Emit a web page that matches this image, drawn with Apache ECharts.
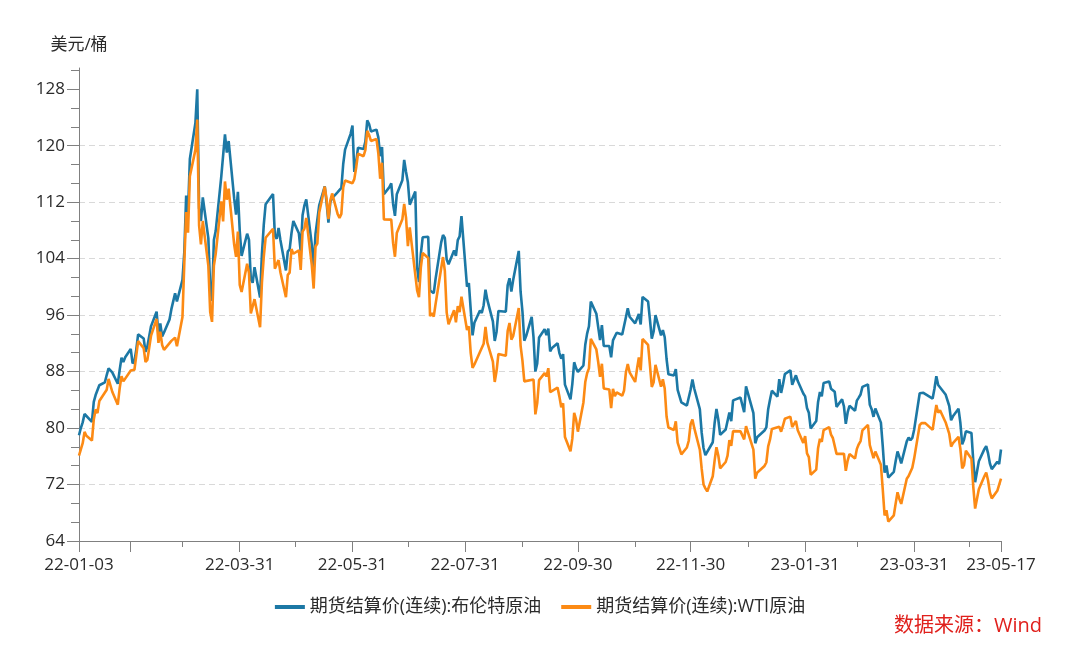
<!DOCTYPE html>
<html>
<head>
<meta charset="utf-8">
<script src="https://cdn.jsdelivr.net/npm/echarts@6/dist/echarts.min.js"></script>
<style>
html,body{margin:0;padding:0;background:#fff;}
#chart{width:1080px;height:653px;}
</style>
</head>
<body>
<div id="chart"></div>
<script>
// ---------------- data ----------------
const seriesNames = ['期货结算价(连续):布伦特原油', '期货结算价(连续):WTI原油'];
const unitName = '美元/桶';
const sourceText = '数据来源：Wind';

const startDate = '2022-01-03';
const endDate = '2023-05-17';
// days on which neither contract settled (weekdays)
const closedDays = ['2022-04-15', '2022-12-26', '2023-01-02', '2023-04-07'];

// x-axis ticks / labels
const labelDates = ['22-01-03', '22-03-31', '22-05-31', '22-07-31', '22-09-30', '22-11-30', '23-01-31', '23-03-31', '23-05-17'];
const majorTickDates = ['22-01-03', '22-01-31', '22-03-31', '22-05-31', '22-07-31', '22-09-30', '22-11-30', '23-01-31', '23-03-31', '23-05-17'];
const minorTickDates = ['22-02-28', '22-04-30', '22-06-30', '22-08-31', '22-10-31', '22-12-31', '23-02-28', '23-04-30'];

// y-axis ticks
const yTickLabels = [64, 72, 80, 88, 96, 104, 112, 120, 128];

// Brent settlement (one value per trading day, by month)
const brent = [
  78.98,80.00,80.80,81.99,81.75,80.87,83.72,84.67,84.47,86.06,86.48,87.51,88.44,88.38,87.89,86.27,88.20,89.96,89.34,90.03,91.21,
  89.16,89.47,91.11,93.27,92.69,90.78,91.55,91.41,94.44,96.48,93.28,94.81,92.97,93.54,95.39,96.84,96.84,99.08,97.93,100.99,
  104.97,112.93,110.46,118.11,123.21,127.98,111.14,109.33,112.67,106.90,99.91,98.02,106.64,107.93,115.62,115.48,121.60,119.03,120.65,112.48,110.23,113.45,107.91,
  104.39,107.53,106.64,101.07,100.58,102.78,98.48,104.64,108.78,111.70,113.16,107.25,106.80,108.33,106.65,102.32,104.99,105.32,107.59,109.34,
  107.58,104.97,110.14,111.55,112.39,105.94,102.46,107.51,107.45,111.55,114.24,111.93,109.11,112.04,112.55,113.42,113.56,114.03,117.40,119.43,121.67,122.84,
  116.29,117.61,119.72,119.51,120.57,123.58,123.07,122.01,122.27,121.17,118.51,119.81,113.12,114.13,114.65,111.74,110.05,113.12,115.09,117.98,116.26,114.81,
  111.63,113.50,102.77,100.69,104.65,107.02,107.10,99.49,99.57,99.10,101.16,106.27,107.35,106.92,103.86,103.20,105.15,104.40,106.62,107.14,110.01,
  100.03,100.54,96.78,93.12,94.92,96.65,96.31,97.40,99.60,98.15,95.10,92.34,93.65,96.59,96.72,96.48,100.22,101.22,99.34,100.99,105.09,99.31,96.49,
  92.36,93.02,95.74,92.83,88.00,89.15,92.84,94.00,93.17,94.10,90.84,91.35,92.00,90.62,89.83,90.46,86.15,84.06,86.27,89.32,88.49,87.96,
  88.86,91.80,93.37,94.42,97.92,96.19,94.29,92.45,94.57,91.63,91.62,90.03,92.41,92.38,93.50,93.26,93.52,95.69,96.96,95.77,94.83,
  94.65,96.16,94.67,98.57,97.92,95.36,92.65,93.67,95.99,93.14,93.86,92.86,89.78,87.62,87.45,88.36,85.41,85.34,83.63,83.19,83.03,85.43,
  86.88,85.57,82.68,79.35,77.17,76.15,76.10,77.99,80.68,82.70,81.21,79.04,79.80,79.99,82.20,80.98,83.92,84.33,83.26,82.26,85.91,
  82.10,77.84,78.69,78.57,79.65,80.10,82.67,84.03,85.28,84.46,86.92,84.98,86.16,87.63,88.19,86.13,86.12,87.47,86.66,84.90,84.49,
  82.84,82.17,79.94,80.99,83.69,85.09,84.50,86.39,86.61,85.58,85.38,85.14,83.00,84.07,83.05,80.60,82.21,83.16,82.45,83.89,
  84.31,84.75,85.83,86.18,83.29,82.66,81.59,82.78,80.77,77.45,73.69,74.70,72.97,73.79,75.32,76.69,75.91,74.99,78.12,78.65,78.28,78.60,79.77,
  84.93,84.94,84.99,85.12,84.18,85.61,87.33,86.09,86.31,84.76,84.77,83.12,81.10,81.66,82.73,80.77,77.69,78.37,79.54,
  79.31,75.32,72.33,72.50,75.30,77.01,77.44,76.41,74.98,74.17,75.23,74.91,76.96
];

// WTI settlement (null = NYMEX closed that day)
const wti = [
  76.08,76.99,77.85,79.46,78.90,78.23,81.22,82.64,82.12,83.82,null,85.43,86.96,86.90,85.14,83.31,85.60,87.35,86.61,86.82,88.15,
  88.20,88.26,90.27,92.31,91.32,89.36,89.66,89.88,93.10,95.46,92.07,93.66,91.76,91.07,null,92.35,92.10,92.81,91.59,95.72,
  103.41,110.60,107.67,115.68,119.40,123.70,108.70,106.02,109.33,103.01,96.44,95.04,102.98,104.70,112.12,109.27,114.93,112.34,113.90,105.96,104.24,107.82,100.28,
  99.27,103.28,101.96,96.23,96.03,98.26,94.29,100.60,104.25,106.95,108.21,102.56,102.75,103.79,102.07,98.54,101.70,102.02,105.36,104.69,
  105.17,102.41,107.81,108.26,109.77,103.09,99.76,105.71,106.13,110.49,114.20,112.40,109.59,112.21,113.23,110.29,109.77,110.33,114.09,115.07,null,114.67,
  115.26,116.87,118.87,118.50,119.41,122.11,121.51,120.67,120.93,118.93,115.31,117.59,109.56,null,109.52,106.19,104.27,107.62,109.57,111.76,109.78,105.76,
  108.43,null,99.50,98.53,102.73,104.79,104.09,95.84,96.30,95.78,97.59,102.60,104.22,102.26,96.35,94.70,96.70,94.98,97.26,96.42,98.62,
  93.89,94.42,90.66,88.54,89.01,90.76,90.50,91.93,94.34,92.09,89.41,86.53,88.11,90.50,90.77,90.23,93.74,94.89,92.52,93.06,97.01,91.64,89.55,
  86.61,86.87,null,86.88,81.94,83.54,86.79,87.78,87.31,88.48,85.10,85.11,85.73,84.45,82.94,83.49,78.74,76.71,78.50,82.15,81.23,79.49,
  83.63,86.52,87.76,88.45,92.64,91.13,89.35,87.27,89.11,85.61,85.46,82.82,85.55,84.51,85.05,84.58,85.32,87.91,89.08,87.90,86.53,
  88.37,90.00,88.17,92.61,91.79,88.91,85.83,86.47,88.96,85.87,86.92,85.59,81.64,80.08,79.73,80.95,77.94,null,76.28,77.24,78.20,80.55,
  81.22,79.98,76.93,74.25,72.01,71.46,71.02,73.17,75.39,77.28,76.11,74.29,75.19,76.09,78.29,77.49,79.56,79.53,78.96,78.40,80.26,
  76.93,72.84,73.67,73.77,74.63,75.12,77.41,78.39,79.86,null,80.18,79.48,80.33,81.31,81.62,80.13,80.15,81.01,79.68,77.90,78.87,
  76.41,75.88,73.39,74.11,77.14,78.47,78.06,79.72,80.14,79.06,78.59,78.49,76.34,null,76.36,73.95,75.39,76.32,75.68,77.05,
  77.69,78.16,79.68,80.46,77.58,76.66,75.72,76.68,74.80,71.33,67.61,68.35,66.74,67.64,69.33,70.90,69.96,69.26,72.81,73.20,72.97,74.37,75.67,
  80.42,80.71,80.61,80.70,79.74,81.53,83.26,82.16,82.52,80.83,80.86,79.16,77.37,77.87,78.76,77.07,74.30,74.76,76.78,
  75.66,71.66,68.60,68.56,71.34,73.16,73.71,72.56,70.87,70.04,71.11,70.86,72.83
];

// ---------------- helpers ----------------
function isoTs(s) { const p = s.split('-'); return Date.UTC(+p[0], +p[1] - 1, +p[2]); }
function shortTs(s) { return isoTs('20' + s); }
function fmtShort(t) {
  const d = new Date(t);
  const yy = String(d.getUTCFullYear()).slice(2);
  const mm = String(d.getUTCMonth() + 1).padStart(2, '0');
  const dd = String(d.getUTCDate()).padStart(2, '0');
  return yy + '-' + mm + '-' + dd;
}

const DAY = 86400000;
const tradingDays = [];
for (let t = isoTs(startDate); t <= isoTs(endDate); t += DAY) {
  const wd = new Date(t).getUTCDay();
  if (wd === 0 || wd === 6) continue;
  if (closedDays.includes(new Date(t).toISOString().slice(0, 10))) continue;
  tradingDays.push(t);
}

const brentData = tradingDays.map((t, i) => [t, brent[i] === undefined ? null : brent[i]]);
const wtiData = tradingDays.map((t, i) => [t, wti[i] === undefined ? null : wti[i]]);

const xMin = isoTs(startDate), xMax = isoTs(endDate);
const yMin = 64, yMax = 131, yStep = 8;
const yMinor = [];
for (let k = 0; k * yStep / 3 + yMin <= yMax; k++) {
  if (k % 3 !== 0) yMinor.push(yMin + k * yStep / 3);
}

const axisColor = '#808080';
const textColor = '#2b2b2b';
const font = "'Open Sans','Noto Sans CJK SC',sans-serif";
const blue = '#1c78a5';
const orange = '#fc8a14';

const chart = echarts.init(document.getElementById('chart'), null, { renderer: 'canvas' });
chart.setOption({
  animation: false,
  backgroundColor: '#ffffff',
  textStyle: { fontFamily: font },
  color: [blue, orange],
  grid: { left: 79, right: 79, top: 68, bottom: 112, containLabel: false },
  legend: {
    data: seriesNames,
    top: 593,
    left: 'center',
    icon: 'rect',
    itemWidth: 30,
    itemHeight: 4,
    itemGap: 20,
    textStyle: { fontSize: 18, color: textColor, fontFamily: font }
  },
  graphic: [{
    type: 'text',
    right: 38,
    top: 616,
    style: { text: sourceText, fontSize: 20, fill: '#e0201c', fontFamily: font }
  }],
  xAxis: [{
    type: 'value',
    min: xMin,
    max: xMax,
    position: 'bottom',
    axisLine: { show: true, lineStyle: { color: axisColor, width: 1 } },
    axisTick: { show: true, length: 11, lineStyle: { color: axisColor }, customValues: majorTickDates.map(shortTs) },
    axisLabel: {
      show: true, customValues: labelDates.map(shortTs), fontSize: 17, color: textColor, margin: 16,
      fontFamily: font, hideOverlap: false,
      formatter: v => fmtShort(v)
    },
    splitLine: { show: false }
  }, {
    type: 'value',
    min: xMin,
    max: xMax,
    position: 'bottom',
    axisLine: { show: false },
    axisTick: { show: true, length: 6, lineStyle: { color: axisColor }, customValues: minorTickDates.map(shortTs) },
    axisLabel: { show: false },
    splitLine: { show: false }
  }],
  yAxis: [{
    type: 'value',
    min: yMin,
    max: yMax,
    interval: yStep,
    name: unitName,
    nameLocation: 'end',
    nameGap: 14,
    nameTextStyle: { fontSize: 17, color: textColor, fontFamily: font, align: 'center' },
    axisLine: { show: true, lineStyle: { color: axisColor, width: 1 } },
    axisTick: { show: true, length: 12, lineStyle: { color: axisColor }, customValues: yTickLabels },
    axisLabel: { customValues: yTickLabels, fontSize: 17, color: textColor, margin: 14, fontFamily: font },
    splitLine: { show: true, showMaxLine: false, lineStyle: { color: '#d9d9d9', type: [6, 4], width: 1 } }
  }, {
    type: 'value',
    min: yMin,
    max: yMax,
    position: 'left',
    axisLine: { show: false },
    axisTick: { show: true, length: 8, lineStyle: { color: axisColor }, customValues: yMinor },
    axisLabel: { show: false },
    splitLine: { show: false }
  }],
  series: [{
    name: seriesNames[0],
    type: 'line',
    xAxisIndex: 0,
    yAxisIndex: 0,
    data: brentData,
    showSymbol: false,
    symbol: 'none',
    connectNulls: true,
    lineStyle: { width: 2.6, color: blue },
    itemStyle: { color: blue }
  }, {
    name: seriesNames[1],
    type: 'line',
    xAxisIndex: 0,
    yAxisIndex: 0,
    data: wtiData,
    showSymbol: false,
    symbol: 'none',
    connectNulls: true,
    lineStyle: { width: 2.6, color: orange },
    itemStyle: { color: orange }
  }]
});
</script>
</body>
</html>
